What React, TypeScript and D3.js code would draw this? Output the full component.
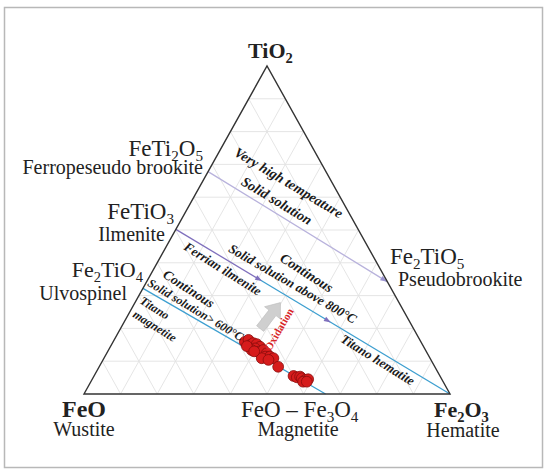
import React, { useEffect, useRef } from "react";
import * as d3 from "d3";

// compositions are [TiO2 %, Fe2O3 %], FeO is the remainder
const sampleTiO2 = [15.9, 16.5, 14.9, 15.5, 15.2, 14.4, 13.9, 13.4, 12.9, 12.4, 13.4, 12.4, 11.4, 11.4, 10.9, 10.9, 10.4, 14.6, 13.0, 8.3, 5.5, 5.1, 5.3, 4.8, 4.3, 4.5, 3.75, 3.75];
const sampleFe2O3 = [36.0, 36.7, 37.9, 38.5, 39.6, 40.9, 39.8, 39.1, 41.2, 42.3, 42.3, 43.7, 43.8, 45.1, 46.3, 43.1, 45.2, 37.2, 40.0, 48.9, 54.5, 55.6, 56.4, 57.1, 58.3, 59.0, 58.0, 59.0];

const gridSteps = [10, 20, 30, 40, 50, 60, 70, 80, 90];

const tieLines = [
  { from: [67.8, 0], to: [34.2, 65.8], color: "#b8b2dc", arrows: [0.985] },
  { from: [50.2, 0], to: [0, 100], color: "#3d9fd0", arrows: [0.305, 0.556] },
  { from: [32.2, 0], to: [0, 66], color: "#3d9fd0", arrows: [] },
];
const ilmeniteSplit = 0.305;

const fs = "'Liberation Serif', 'Times New Roman', serif";

const App = () => {
  const ref = useRef(null);
  const W = 550, H = 472;
  const left = 84, right = 450, apexX = 267, apexY = 66, baseY = 394;

  useEffect(() => {
    const svg = d3.select(ref.current);
    svg.selectAll("*").remove();

    const tScale = d3.scaleLinear().domain([0, 100]).range([baseY, apexY]);
    const hScale = d3.scaleLinear().domain([0, 100]).range([left, right]);
    const shear = (apexX - left) / 100;
    const proj = (ti, fe) => [hScale(fe) + ti * shear, tScale(ti)];

    svg.append("rect").attr("width", W).attr("height", H).attr("fill", "white");
    svg.append("rect").attr("x", 4.5).attr("y", 7.5).attr("width", 538).attr("height", 460)
      .attr("fill", "none").attr("stroke", "#b8b8b8").attr("stroke-width", 1.5);

    const line = d3.line();

    // grid
    const grid = svg.append("g").attr("stroke", "#e2e2e2").attr("stroke-width", 0.9).attr("fill", "none");
    gridSteps.forEach(v => {
      grid.append("path").attr("d", line([proj(v, 0), proj(v, 100 - v)]));
      grid.append("path").attr("d", line([proj(0, v), proj(100 - v, v)]));
      grid.append("path").attr("d", line([proj(0, 100 - v), proj(100 - v, 0)]));
    });

    // tie lines
    tieLines.forEach((tl, i) => {
      const a = proj(tl.from[0], tl.from[1]);
      const b = proj(tl.to[0], tl.to[1]);
      if (i === 1) {
        const m = [a[0] + (b[0] - a[0]) * ilmeniteSplit, a[1] + (b[1] - a[1]) * ilmeniteSplit];
        svg.append("path").attr("d", line([a, m])).attr("stroke", "#7f70bd").attr("stroke-width", 1.3).attr("fill", "none");
        svg.append("path").attr("d", line([m, b])).attr("stroke", tl.color).attr("stroke-width", 1.3).attr("fill", "none");
      } else {
        svg.append("path").attr("d", line([a, b])).attr("stroke", tl.color).attr("stroke-width", 1.3).attr("fill", "none");
      }
      const ang = Math.atan2(b[1] - a[1], b[0] - a[0]) * 180 / Math.PI;
      tl.arrows.forEach(f => {
        const p = [a[0] + (b[0] - a[0]) * f, a[1] + (b[1] - a[1]) * f];
        svg.append("path").attr("d", "M3,0 L-4,-2.5 L-4,2.5 Z")
          .attr("transform", `translate(${p[0]},${p[1]}) rotate(${ang})`)
          .attr("fill", i === 0 ? "#9b94d0" : "#7f70bd");
      });
    });

    // triangle
    svg.append("path")
      .attr("d", line([proj(0, 0), proj(0, 100), proj(100, 0)]) + "Z")
      .attr("fill", "none").attr("stroke", "#333").attr("stroke-width", 1.4).attr("stroke-linejoin", "miter");

    // oxidation arrow
    svg.append("path")
      .attr("d", "M-16,-4.5 L4,-4.5 L4,-10 L17,0 L4,10 L4,4.5 L-16,4.5 Z")
      .attr("transform", "translate(270,316) rotate(-52)")
      .attr("fill", "#cfcfcf").attr("stroke", "#bdbdbd").attr("stroke-width", 0.6);

    // samples
    svg.append("g").selectAll("circle")
      .data(sampleTiO2.map((t, i) => [t, sampleFe2O3[i]]))
      .join("circle")
      .attr("cx", d => proj(d[0], d[1])[0])
      .attr("cy", d => proj(d[0], d[1])[1])
      .attr("r", 5.4)
      .attr("fill", "#d61c1c")
      .attr("stroke", "#8a0d0d")
      .attr("stroke-width", 0.8);

    // formula labels
    const formula = (x, y, parts, size, weight, anchor) => {
      const t = svg.append("text").attr("x", x).attr("y", y)
        .attr("font-family", fs).attr("font-size", size).attr("font-weight", weight)
        .attr("text-anchor", anchor).attr("fill", "#222");
      let down = false;
      parts.forEach(([s, sub]) => {
        const sp = t.append("tspan").text(s);
        if (sub && !down) { sp.attr("dy", size * 0.22).attr("font-size", size * 0.66); down = true; }
        else if (sub) { sp.attr("font-size", size * 0.66); }
        else if (down) { sp.attr("dy", -size * 0.22); down = false; }
      });
    };
    const plain = (x, y, s, size, anchor) => {
      svg.append("text").attr("x", x).attr("y", y).attr("font-family", fs).attr("font-size", size)
        .attr("text-anchor", anchor).attr("fill", "#222").text(s);
    };

    formula(248, 58, [["TiO", false], ["2", true]], 22, "bold", "start");
    formula(203, 156, [["FeTi", false], ["2", true], ["O", false], ["5", true]], 23, "normal", "end");
    plain(203, 174, "Ferropeseudo brookite", 20, "end");
    formula(174, 219, [["FeTiO", false], ["3", true]], 23, "normal", "end");
    plain(165, 241, "Ilmenite", 20, "end");
    formula(143, 277, [["Fe", false], ["2", true], ["TiO", false], ["4", true]], 22, "normal", "end");
    plain(127, 300, "Ulvospinel", 20, "end");
    formula(390, 264, [["Fe", false], ["2", true], ["TiO", false], ["5", true]], 23, "normal", "start");
    plain(398, 286, "Pseudobrookite", 20, "start");
    formula(84, 417, [["FeO", false]], 24, "bold", "middle");
    plain(84, 436, "Wustite", 20, "middle");
    formula(241, 417, [["FeO \u2013 Fe", false], ["3", true], ["O", false], ["4", true]], 23, "normal", "start");
    plain(298, 436, "Magnetite", 20, "middle");
    formula(434, 417, [["Fe", false], ["2", true], ["O", false], ["3", true]], 22, "bold", "start");
    plain(463, 437, "Hematite", 20, "middle");

    // rotated field notes
    const note = (cx, cy, ang, s, size, color = "#1a1a1a", weight = "bold", style = "italic") => {
      svg.append("text")
        .attr("transform", `translate(${cx},${cy}) rotate(${ang})`)
        .attr("text-anchor", "middle").attr("dominant-baseline", "middle")
        .attr("font-family", fs).attr("font-size", size)
        .attr("font-weight", weight).attr("font-style", style)
        .attr("fill", color).text(s);
    };
    note(288, 184, 31, "Very high tempeature", 14);
    note(276, 202, 31, "Solid solution", 14);
    note(306, 274, 33, "Continous", 14);
    note(292, 285, 30, "Solid solution above 800\u00b0C", 13);
    note(222, 270, 32, "Ferrian ilmenite", 13);
    note(188, 290, 33, "Continous", 13.5);
    note(195, 311, 31, "Solid solution> 600\u00b0C", 12);
    note(154, 309, 32, "Titano", 12);
    note(154, 327, 32, "magnetite", 12);
    note(377, 361, 32, "Titano hematite", 13);
    note(280, 330, -60, "Oxidation", 11, "#d8262a", "bold", "normal");
  }, []);

  return (
    <svg ref={ref} width={W} height={H} style={{ position: "absolute", left: 0, top: 0 }} />
  );
};

export default App;
